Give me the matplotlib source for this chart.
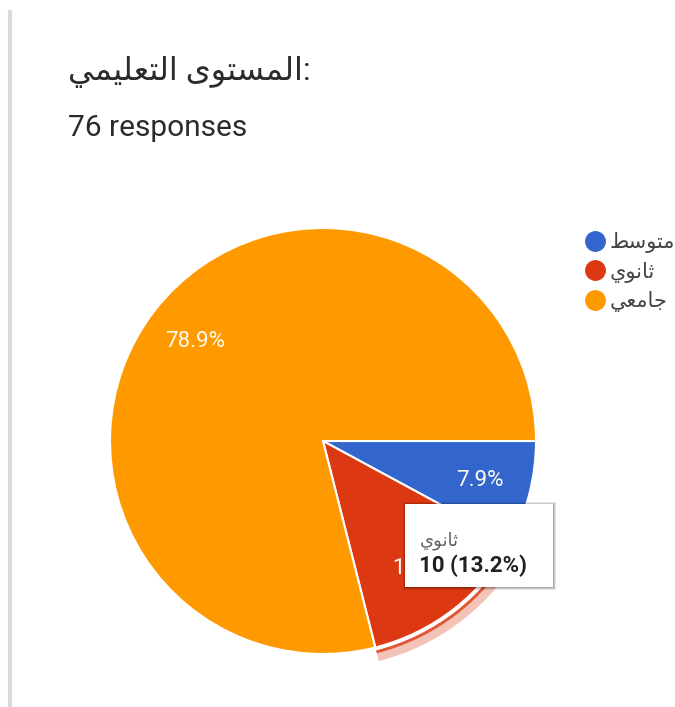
import matplotlib
matplotlib.use("Agg")
import matplotlib.pyplot as plt
from matplotlib.patches import Wedge, Rectangle
from matplotlib.lines import Line2D

"""
Google Forms style pie: education level of 76 respondents.
"""

# ---- data ----
title = "المستوى التعليمي"
responses = 76
categories = ["متوسط", "ثانوي", "جامعي"]
counts = [6, 10, 60]
colors = ["#3366cc", "#dc3912", "#ff9900"]
hover_index = 1  # slice under the tooltip

# ---- minimal Arabic shaping (matplotlib has no bidi / joining) ----
# iso, fin, ini, med
FORMS = {
    "ا": ("\uFE8D", "\uFE8E", None, None),
    "و": ("\uFEED", "\uFEEE", None, None),
    "ى": ("\uFEEF", "\uFEF0", None, None),
    "ت": ("\uFE95", "\uFE96", "\uFE97", "\uFE98"),
    "ث": ("\uFE99", "\uFE9A", "\uFE9B", "\uFE9C"),
    "ج": ("\uFE9D", "\uFE9E", "\uFE9F", "\uFEA0"),
    "س": ("\uFEB1", "\uFEB2", "\uFEB3", "\uFEB4"),
    "ط": ("\uFEC1", "\uFEC2", "\uFEC3", "\uFEC4"),
    "ع": ("\uFEC9", "\uFECA", "\uFECB", "\uFECC"),
    "ل": ("\uFEDD", "\uFEDE", "\uFEDF", "\uFEE0"),
    "م": ("\uFEE1", "\uFEE2", "\uFEE3", "\uFEE4"),
    "ن": ("\uFEE5", "\uFEE6", "\uFEE7", "\uFEE8"),
    "ي": ("\uFEF1", "\uFEF2", "\uFEF3", "\uFEF4"),
}


def dual(c):
    return c in FORMS and FORMS[c][2] is not None


def shape(s):
    out = []
    for i, c in enumerate(s):
        if c not in FORMS:
            out.append(c)
            continue
        prev_c = s[i - 1] if i > 0 else ""
        next_c = s[i + 1] if i + 1 < len(s) else ""
        jp = dual(prev_c)
        jn = dual(c) and next_c in FORMS
        iso, fin, ini, med = FORMS[c]
        if jp and jn:
            out.append(med)
        elif jp:
            out.append(fin)
        elif jn:
            out.append(ini)
        else:
            out.append(iso)
    return "".join(reversed(out))


W, H = 675, 707
FONT = ["Roboto", "DejaVu Sans"]
plt.rcParams["font.family"] = FONT

fig = plt.figure(figsize=(W / 100, H / 100), dpi=100)
fig.patch.set_facecolor("white")
ax = fig.add_axes([0, 0, 1, 1])


def Y(py):
    return H - py


cx, cy, r = 323, Y(441), 213
total = sum(counts)

wedges, texts, autotexts = ax.pie(
    counts, colors=colors, startangle=0, counterclock=False,
    center=(cx, cy), radius=r, autopct="%1.1f%%", pctdistance=0.76,
    wedgeprops=dict(edgecolor="white", linewidth=1.5),
    textprops=dict(color="#fffaf0", fontsize=16),
)

# hover highlight ring around the hovered slice
start = -360 * sum(counts[:hover_index]) / total
end = start - 360 * counts[hover_index] / total
ax.add_patch(Wedge((cx, cy), r + 6, end, start, width=3,
                   facecolor=colors[hover_index], alpha=0.85, lw=0))
ax.add_patch(Wedge((cx, cy), r + 14, end, start, width=8,
                   facecolor=colors[hover_index], alpha=0.3, lw=0))

ax.set_xlim(0, W)
ax.set_ylim(0, H)
ax.set_aspect("equal")
ax.axis("off")

# card left border
ax.plot([10, 10], [Y(10), 0], color="#dadada", lw=3, solid_capstyle="butt")

# title and subtitle
ax.text(68, Y(72), shape(title) + ":", fontsize=23, color="#2b2b2b",
        ha="left", va="center", family=FONT)
ax.text(68, Y(128), f"{responses} responses", fontsize=21.5, color="#2b2b2b",
        ha="left", va="center")

# legend
handles = [Line2D([], [], marker="o", ls="", markersize=14,
                  markerfacecolor=c, markeredgecolor=c) for c in colors]
ax.legend(handles, [shape(c) for c in categories], loc="upper left",
          bbox_to_anchor=(574 / W, Y(224) / H), frameon=False,
          fontsize=15, handletextpad=0.1, labelspacing=0.4,
          handlelength=1.2, labelcolor="#444444", borderaxespad=0)

# tooltip
bx0, by0, bx1, by1 = 405, 504, 553, 587
for k, a in [(3, 0.10), (2, 0.12), (1, 0.15)]:
    ax.add_patch(Rectangle((bx0 - k + 1, Y(by1 + k)), bx1 - bx0 + 2 * k - 1,
                           by1 - by0 + 2 * k - 1, facecolor="#000000",
                           alpha=a, lw=0, zorder=5))
ax.add_patch(Rectangle((bx0, Y(by1)), bx1 - bx0, by1 - by0,
                       facecolor="white", lw=0, zorder=6))
pct = 100 * counts[hover_index] / total
ax.text(420, Y(541), shape(categories[hover_index]), fontsize=13,
        color="#5f6368", ha="left", va="center", zorder=7)
ax.text(419, Y(566), f"{counts[hover_index]} ({pct:.1f}%)", fontsize=16,
        fontweight="bold", color="#202124", ha="left", va="center", zorder=7)

fig.savefig("out.png", dpi=100, facecolor="white")
